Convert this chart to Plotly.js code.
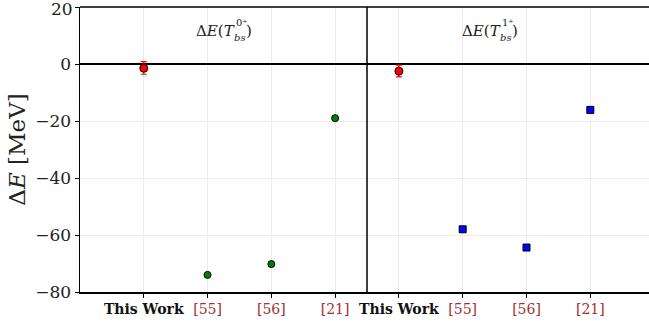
<!DOCTYPE html>
<html><head><meta charset="utf-8">
<script src="https://cdn.plot.ly/plotly-3.0.1.min.js"></script>
<style>body{margin:0;padding:0;background:#fff}#chart{width:649px;height:321px}</style>
</head><body><div id="chart"></div>
<script>
const categories = ["This Work", "[55]", "[56]", "[21]"];
const refColor = "#a0302f";
const leftValues = [-1.5, -74.0, -70.2, -19.0];
const leftErrPlus = [2.3, 0, 0, 0];
const leftErrMinus = [2.1, 0, 0, 0];
const rightValues = [-2.5, -58.0, -64.4, -16.1];
const rightErrPlus = [2.1, 0, 0, 0];
const rightErrMinus = [2.0, 0, 0, 0];
const yTicks = [20, 0, -20, -40, -60, -80];
const panelStates = ["0\u207A", "1\u207A"];

const tickText = categories.map((c, i) => i === 0 ? "<b>" + c + "</b>" : "<span style='color:" + refColor + "'>" + c + "</span>");
const idx = [0, 1, 2, 3];
const serif = "DejaVu Serif";
const fmt = v => v < 0 ? "\u2212" + Math.abs(v) : String(v);

const traces = [
  {x: [idx[0]], y: [leftValues[0]], xaxis: 'x', yaxis: 'y', mode: 'markers', type: 'scatter',
   marker: {color: '#ff0000', size: 8, symbol: 'circle', line: {color: '#000', width: 1}},
   error_y: {type: 'data', symmetric: false, array: [leftErrPlus[0]], arrayminus: [leftErrMinus[0]], color: '#ff0000', thickness: 1.2, width: 3}},
  {x: idx.slice(1), y: leftValues.slice(1), xaxis: 'x', yaxis: 'y', mode: 'markers', type: 'scatter',
   marker: {color: '#008000', size: 7, symbol: 'circle', line: {color: '#000', width: 1}}},
  {x: [idx[0]], y: [rightValues[0]], xaxis: 'x2', yaxis: 'y', mode: 'markers', type: 'scatter',
   marker: {color: '#ff0000', size: 8, symbol: 'circle', line: {color: '#000', width: 1}},
   error_y: {type: 'data', symmetric: false, array: [rightErrPlus[0]], arrayminus: [rightErrMinus[0]], color: '#ff0000', thickness: 1.2, width: 3}},
  {x: idx.slice(1), y: rightValues.slice(1), xaxis: 'x2', yaxis: 'y', mode: 'markers', type: 'scatter',
   marker: {color: '#0000ff', size: 7, symbol: 'square', line: {color: '#000', width: 1}}}
];

const W = 569, H = 285, L = 80, T = 7;
const d = 287 / W;
const px = x => (x - L) / W;
const py = y => (T + H - y) / H;

const xCommon = {
  tickmode: 'array', tickvals: idx, ticktext: tickText,
  showgrid: true, gridcolor: '#ececec', gridwidth: 1,
  zeroline: false, showline: true, linecolor: '#000', linewidth: 1.5,
  ticks: 'outside', ticklen: 4, tickwidth: 1, tickcolor: '#000',
  tickfont: {family: serif, size: 14, color: '#111'}, anchor: 'y', fixedrange: true
};

function label(xPix, state) {
  const f = {family: serif, size: 15, color: '#222'};
  const s = {family: serif, size: 10, color: '#222'};
  return [
    {xref: 'paper', yref: 'paper', x: px(xPix), y: py(31), xanchor: 'right', yanchor: 'middle', showarrow: false,
     text: "\u0394<i>E</i>(<i>T</i>", font: f},
    {xref: 'paper', yref: 'paper', x: px(xPix - 3), y: py(23), xanchor: 'left', yanchor: 'middle', showarrow: false,
     text: state, font: s},
    {xref: 'paper', yref: 'paper', x: px(xPix - 5), y: py(37), xanchor: 'left', yanchor: 'middle', showarrow: false,
     text: "<i>bs</i>", font: s},
    {xref: 'paper', yref: 'paper', x: px(xPix + 7), y: py(31), xanchor: 'left', yanchor: 'middle', showarrow: false,
     text: ")", font: f}
  ];
}

const layout = {
  width: 649, height: 321,
  margin: {l: L, r: 0, t: T, b: 29},
  paper_bgcolor: '#fff', plot_bgcolor: '#fff',
  showlegend: false,
  xaxis: Object.assign({}, xCommon, {domain: [0, d], range: [-1, 3.5]}),
  xaxis2: Object.assign({}, xCommon, {domain: [d, 1], range: [-0.5, 3.92]}),
  yaxis: {
    range: [-80, 20], tickmode: 'array', tickvals: yTicks,
    ticktext: yTicks.map(v => v === 20 ? "" : fmt(v)),
    showgrid: true, gridcolor: '#ececec', gridwidth: 1,
    zeroline: true, zerolinecolor: '#000', zerolinewidth: 1.2,
    showline: true, linecolor: '#000', linewidth: 1.5,
    ticks: 'outside', ticklen: 4, tickwidth: 1, tickcolor: '#000',
    tickfont: {family: serif, size: 17, color: '#222'},
    title: {text: "\u0394<i>E</i> [MeV]", font: {family: serif, size: 23, color: '#222'}, standoff: 3},
    fixedrange: true
  },
  shapes: [
    {type: 'line', xref: 'paper', yref: 'paper', x0: 0, x1: 1, y0: 1, y1: 1, line: {color: '#000', width: 1.5}},
    {type: 'line', xref: 'paper', yref: 'paper', x0: d, x1: d, y0: 0, y1: 1, line: {color: '#000', width: 1.5}}
  ],
  annotations: [
    {xref: 'paper', yref: 'y', x: 0, y: yTicks[0], xanchor: 'right', yanchor: 'middle', xshift: -5, yshift: -2, showarrow: false,
     text: fmt(yTicks[0]), font: {family: serif, size: 17, color: '#222'}}
  ].concat(label(237, panelStates[0]), label(503, panelStates[1]))
};

Plotly.newPlot('chart', traces, layout, {displayModeBar: false, staticPlot: true});
</script>
</body></html>
